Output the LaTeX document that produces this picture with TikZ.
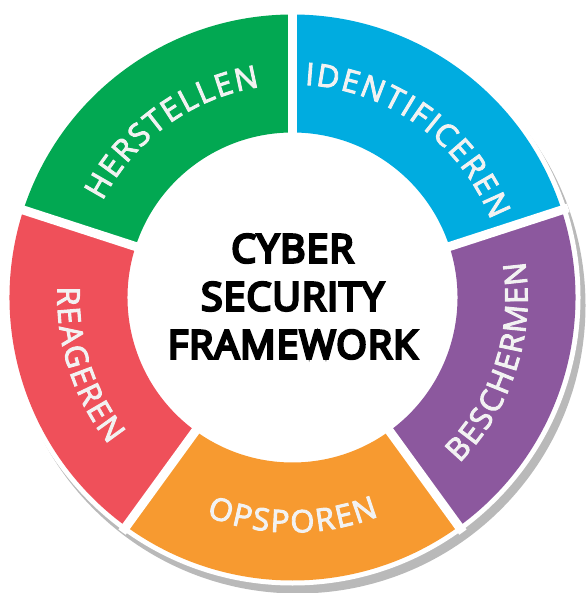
\documentclass[tikz,border=0pt]{standalone}
\usepackage{fontspec}
\setmainfont{Open Sans}
\newfontfamily\lblfont[FakeBold=3, WordSpace=0.25]{Open Sans}
\newfontfamily\hubfont[FakeBold=7, LetterSpace=3]{Open Sans}
\usetikzlibrary{decorations.text}

\definecolor{herstellen}{RGB}{2,168,82}
\definecolor{identificeren}{RGB}{0,172,224}
\definecolor{beschermen}{RGB}{140,88,158}
\definecolor{opsporen}{RGB}{247,154,48}
\definecolor{reageren}{RGB}{239,80,90}
\definecolor{lbltext}{RGB}{242,242,242}

% one coloured part of the ring, from angle #2 to #3
\newcommand\ringpart[3]{%
  \fill[#1] (#2:165) arc[start angle=#2, end angle=#3, radius=165]
    -- (#3:283) arc[start angle=#3, end angle=#2, radius=283] -- cycle;}
% label read clockwise (top of letters outward)
\newcommand\cwlabel[3]{%
  \path[lbl={#1}] (#2:213) arc[start angle=#2, end angle=#3, radius=213];}
% label read counter-clockwise (top of letters inward)
\newcommand\ccwlabel[3]{%
  \path[lbl={#1}] (#2:235) arc[start angle=#2, end angle=#3, radius=235];}

\begin{document}
\begin{tikzpicture}[x=1pt, y=1pt]
	\tikzset{lbl/.style={decorate, decoration={text along path, text align=center,
		text color=lbltext, text={|\lblfont\fontsize{31}{31}\selectfont|#1}}},
	gap/.style={white, line width=9pt}};

	\useasboundingbox (-292.5,-295.5) rectangle (292.5,297.5);

	% shadow and white rim
	\fill[gray!55] (5,-8) circle[radius=288];
	\fill[white] (0,0) circle[radius=288];

	\ringpart{identificeren}{18}{90}
	\ringpart{beschermen}{-54}{18}
	\ringpart{opsporen}{-126}{-54}
	\ringpart{reageren}{162}{234}
	\ringpart{herstellen}{90}{162}

	\foreach \a in {90,18,-54,-126,162}
		\draw[gap] (\a:150) -- (\a:290);

	% letters set apart by (narrowed) word spaces
	\cwlabel{I D E N T I F I C E R E N}{90}{18}
	\cwlabel{H E R S T E L L E N}{162}{90}
	\ccwlabel{B E S C H E R M E N}{-54}{18}
	\ccwlabel{O P S P O R E N}{-126}{-54}
	\ccwlabel{R E A G E R E N}{162}{234}

	\node[align=center, font=\hubfont\fontsize{39}{48}\selectfont] (hub) at (0,1)
		{CYBER\\SECURITY\\FRAMEWORK};
\end{tikzpicture}
\end{document}
